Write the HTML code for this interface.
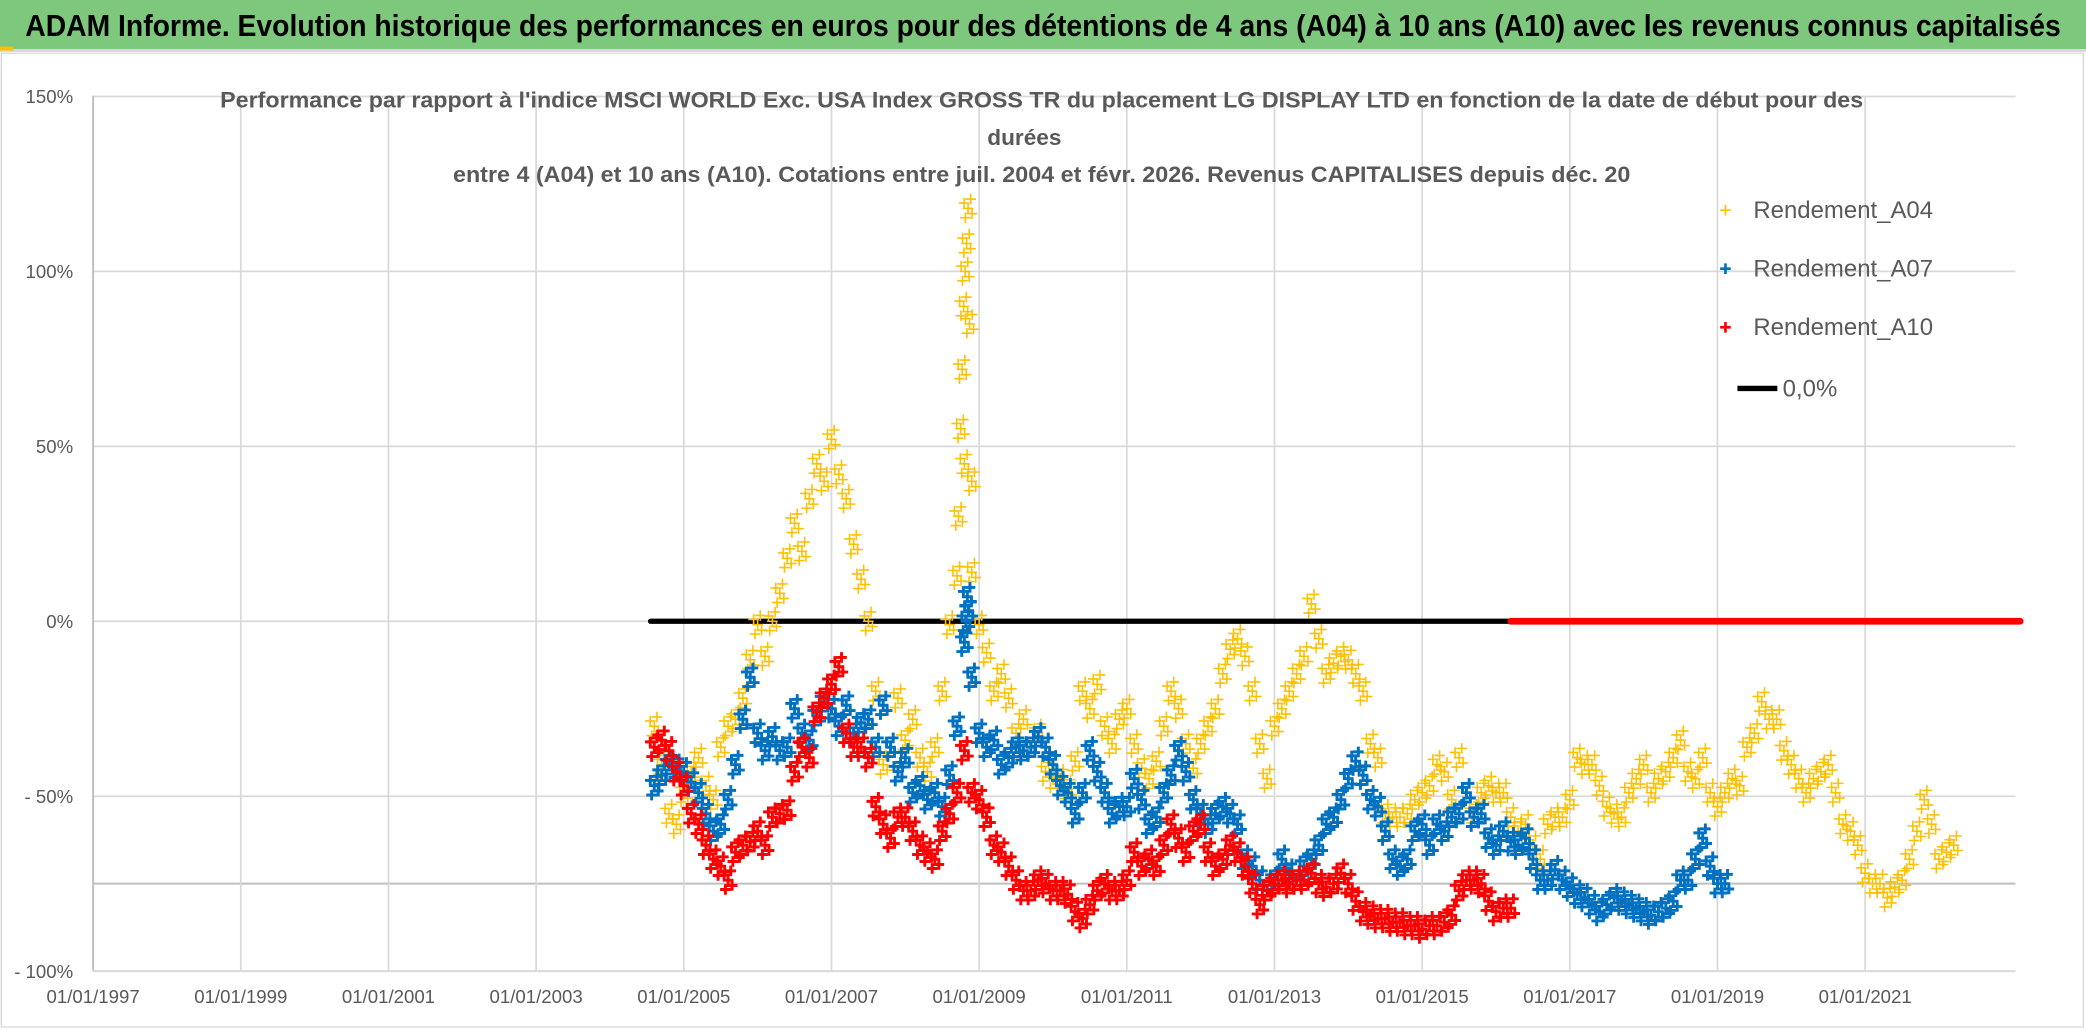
<!DOCTYPE html>
<html><head><meta charset="utf-8"><style>
html,body{margin:0;padding:0;background:#fff;overflow:hidden}
svg{display:block}
text{font-family:"Liberation Sans",sans-serif}
</style></head><body>
<svg id="chart" width="2086" height="1031" viewBox="0 0 1568 775" preserveAspectRatio="none" xmlns="http://www.w3.org/2000/svg">
<rect x="0" y="0" width="1568" height="775" fill="#fff"/>
<rect x="0" y="0" width="1568" height="37" fill="#7dc87c"/>
<rect x="0" y="37" width="1568" height="2" fill="#d8d8d8"/>
<rect x="0" y="35" width="10" height="3" fill="#ffc000"/>
<text x="784" y="27" text-anchor="middle" font-size="23" font-weight="bold" fill="#000" textLength="1530" lengthAdjust="spacingAndGlyphs">ADAM Informe. Evolution historique des performances en euros pour des détentions de 4 ans (A04) à 10 ans (A10) avec les revenus connus capitalisés</text>
<rect x="1" y="40" width="1565" height="732" fill="none" stroke="#d9d9d9" stroke-width="1"/>
<g id="grid"></g>
<g id="chart-title" fill="#595959" font-size="17" font-weight="bold">
<text x="783" y="81" text-anchor="middle" textLength="1235" lengthAdjust="spacingAndGlyphs">Performance par rapport à l'indice MSCI WORLD Exc. USA Index GROSS TR  du placement LG DISPLAY LTD en fonction de la date de début pour des</text>
<text x="770" y="109" text-anchor="middle">durées</text>
<text x="783" y="137" text-anchor="middle" textLength="885" lengthAdjust="spacingAndGlyphs">entre 4 (A04) et 10 ans (A10). Cotations entre juil. 2004 et févr. 2026. Revenus CAPITALISES depuis déc. 20</text>
</g>
<g id="axes"></g>
<g id="zero"></g>
<g id="marks"></g>
<g id="legend" font-size="18" fill="#595959">
<g><path d="M1293 158h8M1297 154v8" stroke="#ffc000" stroke-width="1.3"/><text x="1318" y="164">Rendement_A04</text></g>
<g><path d="M1293 202h8M1297 198v8" stroke="#0070c0" stroke-width="2"/><text x="1318" y="208">Rendement_A07</text></g>
<g><path d="M1293 246h8M1297 242v8" stroke="#ff0000" stroke-width="2"/><text x="1318" y="252">Rendement_A10</text></g>
<g><path d="M1306 292h30" stroke="#000" stroke-width="4"/><text x="1340" y="298">0,0%</text></g>
</g>
</svg>
<script>
const yTicks = [150, 100, 50, 0, -50, -100];
const yTickLabels = ["150%", "100%", "50%", "0%", "- 50%", "- 100%"];
const xTickYears = [1997, 1999, 2001, 2003, 2005, 2007, 2009, 2011, 2013, 2015, 2017, 2019, 2021];
const xTickLabels = ["01/01/1997","01/01/1999","01/01/2001","01/01/2003","01/01/2005","01/01/2007","01/01/2009","01/01/2011","01/01/2013","01/01/2015","01/01/2017","01/01/2019","01/01/2021"];
const seriesStart = 2004.6;
const seriesStep = 0.1;
const a04Values = [-30,-41,-55,-58,-49,
-43,-39,-47,-51,-36,-30,-28,-22,-11,-1,
-10,0,8,18,28,20,35,45,40,52,
42,35,22,12,0,-20,-41,-36,-22,-34,
-28,-39,-43,-36,-20,-1,13,45,14,-1,
-9,-20,-15,-22,-32,-28,-36,-32,-43,-45,
-45,-48,-40,-20,-25,-18,-30,-35,-28,-25,
-35,-42,-45,-40,-30,-20,-25,-35,-42,-35,
-30,-25,-15,-8,-5,-10,-20,-35,-45,-30,
-25,-20,-15,-10,5,-5,-15,-12,-10,-11,
-15,-20,-35,-39,-55,-56,-56,-55,-51,-49,
-47,-41,-43,-51,-39,-49,-55,-49,-47,-49,
-49,-56,-60,-58,-64,-68,-58,-56,-56,-51,
-39,-41,-41,-47,-53,-55,-56,-49,-45,-41,
-49,-45,-43,-39,-34,-43,-45,-39,-49,-53,
-49,-45,-47,-36,-32,-23,-28,-28,-37,-41,
-45,-49,-45,-43,-41,-49,-58,-60,-64,-72,
-75,-75,-79,-76,-74,-68,-60,-51,-58,-68,
-66,-64];
const a04SpikeYears = [2008.72,2008.75,2008.77,2008.79,2008.81,2008.83,2008.85,2008.87,2008.9];
const a04SpikeValues = [30,55,72,90,100,108,118,85,40];
const a07Values = [-47,-44,-41,-42,-43,
-46,-49,-55,-60,-58,-51,-41,-28,-16,-32,
-37,-33,-37,-36,-25,-32,-34,-27,-23,-25,
-30,-24,-32,-29,-28,-36,-24,-36,-43,-39,
-49,-47,-51,-49,-53,-44,-30,-6,-16,-32,
-36,-34,-41,-39,-36,-37,-36,-33,-36,-41,
-47,-49,-55,-49,-37,-43,-49,-55,-53,-53,
-45,-51,-58,-56,-49,-44,-37,-43,-51,-55,
-58,-55,-53,-55,-58,-68,-70,-74,-77,-74,
-68,-72,-74,-70,-68,-64,-58,-56,-51,-45,
-40,-44,-51,-53,-60,-68,-70,-68,-60,-58,
-64,-58,-60,-56,-55,-49,-56,-55,-62,-64,
-60,-63,-64,-62,-68,-74,-74,-71,-74,-76,
-78,-79,-81,-83,-81,-79,-80,-81,-82,-83,
-84,-83,-82,-80,-74,-74,-68,-62,-70,-75,
-75];
const a07SpikeYears = [2008.82,2008.84,2008.86];
const a07SpikeValues = [0,7,3];
const a10Values = [-36,-34,-37,-43,-47,
-55,-58,-64,-68,-70,-74,-66,-64,-63,-60,
-64,-56,-55,-54,-43,-36,-39,-26,-22,-18,
-13,-32,-36,-36,-39,-53,-58,-62,-56,-56,
-60,-64,-66,-68,-60,-55,-49,-37,-49,-51,
-56,-64,-66,-70,-74,-77,-77,-74,-75,-77,
-77,-78,-83,-85,-81,-77,-75,-77,-77,-74,
-66,-70,-68,-70,-64,-58,-62,-66,-60,-58,
-66,-70,-68,-64,-66,-70,-75,-81,-77,-75,
-74,-75,-74,-74,-72,-75,-76,-75,-72,-75,
-80,-83,-84,-85,-85,-86,-86,-87,-87,-88,
-87,-87,-86,-84,-77,-74,-74,-75,-80,-83,
-82,-82];
const zeroBlackYears = [2004.55, 2016.2];
const zeroRedYears = [2016.2, 2023.1];
const refLineValue = -75;

const NS = "http://www.w3.org/2000/svg";
const plotLeft = 70, plotRight = 1515, plotTop = 72, plotBottom = 730;
const yearMin = 1997, yearPx = 55.5;
const clusterOffsets = [[0,0],[-3,-4],[3,4],[-2,7],[2,-7]];
function xScale(yr){ return plotLeft + (yr - yearMin) * yearPx; }
function yScale(v){ return 467 - v * 2.63; }
function mk(tag, attrs, parent){ const e = document.createElementNS(NS, tag); for (const k in attrs) e.setAttribute(k, attrs[k]); parent.appendChild(e); return e; }

const grid = document.getElementById('grid');
const axes = document.getElementById('axes');
yTicks.forEach((t, i) => {
  if (t !== -100) {
    const gl = mk('line', {x1: plotLeft, x2: plotRight, y1: yScale(t), y2: yScale(t), stroke: '#d9d9d9', 'stroke-width': 1.3}, grid);
    
    
  }
  const lab = mk('text', {x: 55, y: yScale(t) + 5, 'text-anchor': 'end', 'font-size': 14, fill: '#595959'}, axes);
  lab.textContent = yTickLabels[i];
  
  
});
const refl = mk('line', {x1: plotLeft, x2: plotRight, y1: yScale(refLineValue), y2: yScale(refLineValue), stroke: '#bfbfbf', 'stroke-width': 1.5}, grid);


xTickYears.forEach((yr, i) => {
  if (i > 0) {
    const gl = mk('line', {x1: xScale(yr), x2: xScale(yr), y1: plotTop, y2: plotBottom, stroke: '#d9d9d9', 'stroke-width': 1.3}, grid);
    
    
  }
  const lab = mk('text', {x: xScale(yr), y: 754, 'text-anchor': 'middle', 'font-size': 14, fill: '#595959'}, axes);
  lab.textContent = xTickLabels[i];
  
  
});
const ya = mk('line', {x1: plotLeft, x2: plotLeft, y1: plotTop, y2: plotBottom, stroke: '#bfbfbf', 'stroke-width': 1.5}, axes);


const xa = mk('line', {x1: plotLeft, x2: plotRight, y1: plotBottom, y2: plotBottom, stroke: '#d9d9d9', 'stroke-width': 1.5}, axes);



const zero = document.getElementById('zero');
const zb = mk('line', {x1: xScale(zeroBlackYears[0]), x2: xScale(zeroBlackYears[1]), y1: yScale(0), y2: yScale(0), stroke: '#000', 'stroke-width': 4, 'stroke-linecap': 'round'}, zero);



const marks = document.getElementById('marks');
function drawPoints(years, values, color, sw, name){
  const g = mk('g', {stroke: color, 'stroke-width': sw, fill: 'none'}, marks);
  
  
  values.forEach((v, i) => {
    const x = xScale(years[i]), y = yScale(v);
    let d = '';
    clusterOffsets.forEach(o => { const cx = x + o[0], cy = y + o[1]; d += `M${cx-4} ${cy}h8M${cx} ${cy-4}v8`; });
    const p = mk('path', {d: d}, g);
    
    
  });
}
function yearsFor(values){ return values.map((_, i) => seriesStart + i * seriesStep); }
drawPoints(yearsFor(a04Values), a04Values, '#ffc000', 1.2, 'series-a04');
drawPoints(a04SpikeYears, a04SpikeValues, '#ffc000', 1.2, 'series-a04');
drawPoints(yearsFor(a07Values), a07Values, '#0070c0', 2.2, 'series-a07');
drawPoints(a07SpikeYears, a07SpikeValues, '#0070c0', 2.2, 'series-a07');
drawPoints(yearsFor(a10Values), a10Values, '#ff0000', 2.2, 'series-a10');
const zr = mk('line', {x1: xScale(zeroRedYears[0]), x2: xScale(zeroRedYears[1]), y1: yScale(0), y2: yScale(0), stroke: '#ff0000', 'stroke-width': 5, 'stroke-linecap': 'round'}, zero);


</script>
</body></html>
